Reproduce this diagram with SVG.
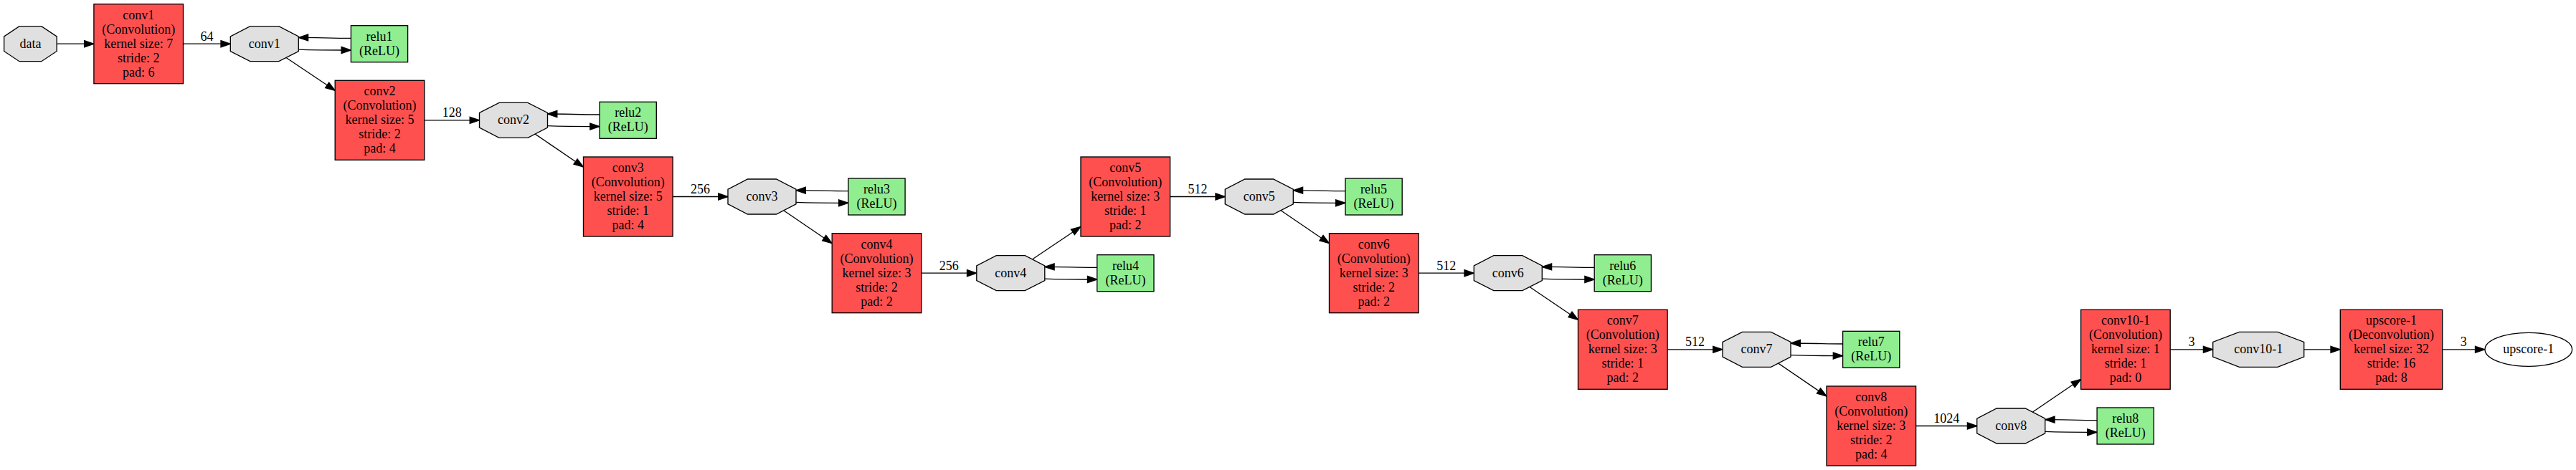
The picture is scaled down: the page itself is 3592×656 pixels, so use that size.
<svg xmlns="http://www.w3.org/2000/svg" xmlns:xlink="http://www.w3.org/1999/xlink" width="3592" height="656" viewBox="0 0 3592 656">
<style>
.conv{fill:#FF5050;stroke:#000;stroke-width:1.33}
.relu{fill:#90EE90;stroke:#000;stroke-width:1.33}
.blob{fill:#E0E0E0;stroke:#000;stroke-width:1.33}
.out{fill:#FFFFFF;stroke:#000;stroke-width:1.33}
text{font-family:"Liberation Serif","Times New Roman",serif;font-size:18px;text-anchor:middle;fill:#000}
.edge{fill:none;stroke:#000;stroke-width:1.33;marker-end:url(#arr)}
</style>
<defs>
<marker id="arr" markerUnits="userSpaceOnUse" markerWidth="16" markerHeight="12" refX="13.3" refY="4.5" orient="auto" style="overflow:visible">
<path d="M0,0 L13.3,4.5 L0,9 Z" fill="#000" stroke="#000" stroke-width="1.33"/>
</marker>
<polygon id="oct" points="-20,-24.5 20,-24.5 47.5,-10.3 47.5,10.3 20,24.5 -20,24.5 -47.5,10.3 -47.5,-10.3"/>
<polygon id="octw" points="-26.7,-24.5 26.7,-24.5 63.5,-10.3 63.5,10.3 26.7,24.5 -26.7,24.5 -63.5,10.3 -63.5,-10.3"/>
</defs>
<rect x="0" y="0" width="3592" height="656" fill="#FFFFFF"/>

<g id="connectors">
<path class="edge" d="M79.2,61.2 H130.9"/>
<path class="edge" d="M255.5,61.2 H321.3"/>
<text x="288.4" y="56.7">64</text>
<path class="edge" d="M489.4,53.4 C464,53.4 441,52.4 416.3,52.4"/>
<path class="edge" d="M416.3,69.1 C441,70 464,70 489.4,70"/>
<path class="edge" d="M398.3,80 L467.2,126.3"/>

<path class="edge" d="M591.8,167.8 H668.5"/>
<text x="630.2" y="163.3">128</text>
<path class="edge" d="M836.1,160 C811,160 788,159 763.5,159"/>
<path class="edge" d="M763.5,175.7 C788,176.6 811,176.6 836.1,176.6"/>
<path class="edge" d="M745.5,186.6 L813.5,233"/>

<path class="edge" d="M938.1,274.5 H1015"/>
<text x="976.6" y="270">256</text>
<path class="edge" d="M1182.9,266.7 C1158,266.7 1135,265.7 1110,265.7"/>
<path class="edge" d="M1110,282.4 C1135,283.3 1158,283.3 1182.9,283.3"/>
<path class="edge" d="M1092,293.3 L1160.2,339.7"/>

<path class="edge" d="M1284.8,381.2 H1361.8"/>
<text x="1323.3" y="376.7">256</text>
<path class="edge" d="M1529.8,373.4 C1505,373.4 1482,372.4 1456.8,372.4"/>
<path class="edge" d="M1456.8,389.1 C1482,390 1505,390 1529.8,390"/>
<path class="edge" d="M1439.8,361.7 L1507,316.5"/>

<path class="edge" d="M1631.6,274.5 H1708.3"/>
<text x="1670" y="270">512</text>
<path class="edge" d="M1876,266.7 C1851,266.7 1828,265.7 1803.3,265.7"/>
<path class="edge" d="M1803.3,282.4 C1828,283.3 1851,283.3 1876,283.3"/>
<path class="edge" d="M1785.3,293.3 L1853.5,339.7"/>

<path class="edge" d="M1978.1,381.2 H2055.3"/>
<text x="2016.7" y="376.7">512</text>
<path class="edge" d="M2223.2,373.4 C2198,373.4 2175,372.4 2150.3,372.4"/>
<path class="edge" d="M2150.3,389.1 C2175,390 2198,390 2223.2,390"/>
<path class="edge" d="M2132.3,400 L2200.5,446.3"/>

<path class="edge" d="M2325.1,487.8 H2402"/>
<text x="2363.5" y="483.3">512</text>
<path class="edge" d="M2569.6,480 C2545,480 2522,479 2497,479"/>
<path class="edge" d="M2497,495.7 C2522,496.6 2545,496.6 2569.6,496.6"/>
<path class="edge" d="M2479,506.6 L2547,553"/>

<path class="edge" d="M2671.6,594.5 H2756.7"/>
<text x="2714.2" y="590">1024</text>
<path class="edge" d="M2924.1,586.7 C2899,586.7 2876,585.7 2851.7,585.7"/>
<path class="edge" d="M2851.7,602.4 C2876,603.3 2899,603.3 2924.1,603.3"/>
<path class="edge" d="M2834.5,575 L2901.6,529.3"/>

<path class="edge" d="M3026.2,487.8 H3085.7"/>
<text x="3056" y="483.3">3</text>
<path class="edge" d="M3212.7,487.8 H3263.3"/>
<path class="edge" d="M3405.7,487.8 H3464.8"/>
<text x="3435.3" y="483.3">3</text>
</g>

<g id="data">
<polygon class="blob" points="27,36.7 57.8,36.7 79.15,50.9 79.15,71.5 57.8,85.7 27,85.7 5.65,71.5 5.65,50.9"/>
<text x="42.4" y="66.8">data</text>
</g>

<g id="conv1">
<rect class="conv" x="130.9" y="5.7" width="124.6" height="111"/>
<text x="193.2" y="26.8">conv1</text>
<text x="193.2" y="46.8">(Convolution)</text>
<text x="193.2" y="66.8">kernel size: 7</text>
<text x="193.2" y="86.8">stride: 2</text>
<text x="193.2" y="106.8">pad: 6</text>
</g>
<g id="conv1_blob">
<use xlink:href="#oct" href="#oct" class="blob" x="368.8" y="61.2"/>
<text x="368.8" y="66.8">conv1</text>
</g>
<g id="relu1">
<rect class="relu" x="489.4" y="35.7" width="79.2" height="51"/>
<text x="529" y="56.8">relu1</text>
<text x="529" y="76.8">(ReLU)</text>
</g>

<g id="conv2">
<rect class="conv" x="467.2" y="112.3" width="124.6" height="111"/>
<text x="529.5" y="133.4">conv2</text>
<text x="529.5" y="153.4">(Convolution)</text>
<text x="529.5" y="173.4">kernel size: 5</text>
<text x="529.5" y="193.4">stride: 2</text>
<text x="529.5" y="213.4">pad: 4</text>
</g>
<g id="conv2_blob">
<use xlink:href="#oct" href="#oct" class="blob" x="716" y="167.8"/>
<text x="716" y="173.4">conv2</text>
</g>
<g id="relu2">
<rect class="relu" x="836.1" y="142.3" width="79.2" height="51"/>
<text x="875.7" y="163.4">relu2</text>
<text x="875.7" y="183.4">(ReLU)</text>
</g>

<g id="conv3">
<rect class="conv" x="813.5" y="219" width="124.6" height="111"/>
<text x="875.8" y="240.1">conv3</text>
<text x="875.8" y="260.1">(Convolution)</text>
<text x="875.8" y="280.1">kernel size: 5</text>
<text x="875.8" y="300.1">stride: 1</text>
<text x="875.8" y="320.1">pad: 4</text>
</g>
<g id="conv3_blob">
<use xlink:href="#oct" href="#oct" class="blob" x="1062.5" y="274.5"/>
<text x="1062.5" y="280.1">conv3</text>
</g>
<g id="relu3">
<rect class="relu" x="1182.9" y="249" width="79.2" height="51"/>
<text x="1222.5" y="270.1">relu3</text>
<text x="1222.5" y="290.1">(ReLU)</text>
</g>

<g id="conv4">
<rect class="conv" x="1160.2" y="325.7" width="124.6" height="111"/>
<text x="1222.5" y="346.8">conv4</text>
<text x="1222.5" y="366.8">(Convolution)</text>
<text x="1222.5" y="386.8">kernel size: 3</text>
<text x="1222.5" y="406.8">stride: 2</text>
<text x="1222.5" y="426.8">pad: 2</text>
</g>
<g id="conv4_blob">
<use xlink:href="#oct" href="#oct" class="blob" x="1409.3" y="381.2"/>
<text x="1409.3" y="386.8">conv4</text>
</g>
<g id="relu4">
<rect class="relu" x="1529.8" y="355.7" width="79.2" height="51"/>
<text x="1569.4" y="376.8">relu4</text>
<text x="1569.4" y="396.8">(ReLU)</text>
</g>

<g id="conv5">
<rect class="conv" x="1507" y="219" width="124.6" height="111"/>
<text x="1569.3" y="240.1">conv5</text>
<text x="1569.3" y="260.1">(Convolution)</text>
<text x="1569.3" y="280.1">kernel size: 3</text>
<text x="1569.3" y="300.1">stride: 1</text>
<text x="1569.3" y="320.1">pad: 2</text>
</g>
<g id="conv5_blob">
<use xlink:href="#oct" href="#oct" class="blob" x="1755.8" y="274.5"/>
<text x="1755.8" y="280.1">conv5</text>
</g>
<g id="relu5">
<rect class="relu" x="1876" y="249" width="79.2" height="51"/>
<text x="1915.6" y="270.1">relu5</text>
<text x="1915.6" y="290.1">(ReLU)</text>
</g>

<g id="conv6">
<rect class="conv" x="1853.5" y="325.7" width="124.6" height="111"/>
<text x="1915.8" y="346.8">conv6</text>
<text x="1915.8" y="366.8">(Convolution)</text>
<text x="1915.8" y="386.8">kernel size: 3</text>
<text x="1915.8" y="406.8">stride: 2</text>
<text x="1915.8" y="426.8">pad: 2</text>
</g>
<g id="conv6_blob">
<use xlink:href="#oct" href="#oct" class="blob" x="2102.8" y="381.2"/>
<text x="2102.8" y="386.8">conv6</text>
</g>
<g id="relu6">
<rect class="relu" x="2223.2" y="355.7" width="79.2" height="51"/>
<text x="2262.8" y="376.8">relu6</text>
<text x="2262.8" y="396.8">(ReLU)</text>
</g>

<g id="conv7">
<rect class="conv" x="2200.5" y="432.3" width="124.6" height="111"/>
<text x="2262.8" y="453.4">conv7</text>
<text x="2262.8" y="473.4">(Convolution)</text>
<text x="2262.8" y="493.4">kernel size: 3</text>
<text x="2262.8" y="513.4">stride: 1</text>
<text x="2262.8" y="533.4">pad: 2</text>
</g>
<g id="conv7_blob">
<use xlink:href="#oct" href="#oct" class="blob" x="2449.5" y="487.8"/>
<text x="2449.5" y="493.4">conv7</text>
</g>
<g id="relu7">
<rect class="relu" x="2569.6" y="462.3" width="79.2" height="51"/>
<text x="2609.2" y="483.4">relu7</text>
<text x="2609.2" y="503.4">(ReLU)</text>
</g>

<g id="conv8">
<rect class="conv" x="2547" y="539" width="124.6" height="111"/>
<text x="2609.3" y="560.1">conv8</text>
<text x="2609.3" y="580.1">(Convolution)</text>
<text x="2609.3" y="600.1">kernel size: 3</text>
<text x="2609.3" y="620.1">stride: 2</text>
<text x="2609.3" y="640.1">pad: 4</text>
</g>
<g id="conv8_blob">
<use xlink:href="#oct" href="#oct" class="blob" x="2804.2" y="594.5"/>
<text x="2804.2" y="600.1">conv8</text>
</g>
<g id="relu8">
<rect class="relu" x="2924.1" y="569" width="79.2" height="51"/>
<text x="2963.7" y="590.1">relu8</text>
<text x="2963.7" y="610.1">(ReLU)</text>
</g>

<g id="conv10-1">
<rect class="conv" x="2901.6" y="432.3" width="124.6" height="111"/>
<text x="2963.9" y="453.4">conv10-1</text>
<text x="2963.9" y="473.4">(Convolution)</text>
<text x="2963.9" y="493.4">kernel size: 1</text>
<text x="2963.9" y="513.4">stride: 1</text>
<text x="2963.9" y="533.4">pad: 0</text>
</g>
<g id="conv10-1_blob">
<use xlink:href="#octw" href="#octw" class="blob" x="3149.2" y="487.8"/>
<text x="3149.2" y="493.4">conv10-1</text>
</g>

<g id="upscore-1">
<rect class="conv" x="3263.3" y="432.3" width="142.4" height="111"/>
<text x="3334.5" y="453.4">upscore-1</text>
<text x="3334.5" y="473.4">(Deconvolution)</text>
<text x="3334.5" y="493.4">kernel size: 32</text>
<text x="3334.5" y="513.4">stride: 16</text>
<text x="3334.5" y="533.4">pad: 8</text>
</g>
<g id="upscore-1_blob">
<ellipse class="out" cx="3525.8" cy="487.8" rx="60.8" ry="23.5"/>
<text x="3525.8" y="493.4">upscore-1</text>
</g>
</svg>
